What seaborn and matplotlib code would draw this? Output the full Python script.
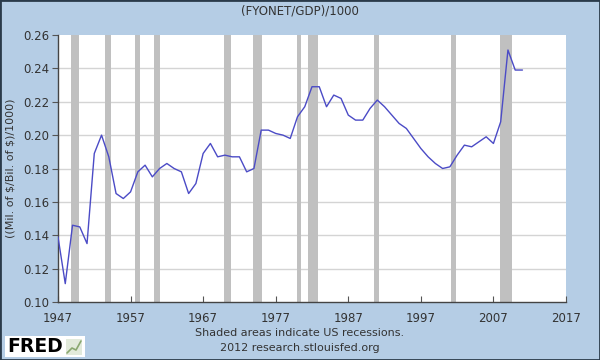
import numpy as np
import pandas as pd
import matplotlib.pyplot as plt
import seaborn as sns

# annual values
years = list(range(1947, 2012))
values = [0.139, 0.111, 0.146, 0.145, 0.135, 0.189, 0.200, 0.187, 0.165, 0.162,
          0.166, 0.178, 0.182, 0.175, 0.180, 0.183, 0.180, 0.178, 0.165, 0.171,
          0.189, 0.195, 0.187, 0.188, 0.187, 0.187, 0.178, 0.180, 0.203, 0.203,
          0.201, 0.200, 0.198, 0.211, 0.217, 0.229, 0.229, 0.217, 0.224, 0.222,
          0.212, 0.209, 0.209, 0.216, 0.221, 0.217, 0.212, 0.207, 0.204, 0.198,
          0.192, 0.187, 0.183, 0.180, 0.181, 0.188, 0.194, 0.193, 0.196, 0.199,
          0.195, 0.208, 0.251, 0.239, 0.239]

# US recessions (NBER), start / end as decimal years
rec_start = [1948.83, 1953.50, 1957.58, 1960.25, 1969.92, 1973.83, 1980.00, 1981.50, 1990.50, 2001.17, 2007.92]
rec_end = [1949.83, 1954.33, 1958.33, 1961.08, 1970.83, 1975.17, 1980.50, 1982.83, 1991.17, 2001.83, 2009.50]

xticks = [1947, 1957, 1967, 1977, 1987, 1997, 2007, 2017]
yticks = [0.10, 0.12, 0.14, 0.16, 0.18, 0.20, 0.22, 0.24, 0.26]

df = pd.DataFrame({'year': years, 'value': values})

bg = '#b5cde5'
sns.set_style('white')
plt.rcParams['font.family'] = ['DejaVu Sans']

fig = plt.figure(figsize=(6, 3.6), dpi=100, facecolor=bg)
ax = fig.add_axes([58/600, 1 - 302/360, 508/600, 267/360])
ax.set_facecolor('white')

for s, e in zip(rec_start, rec_end):
    ax.axvspan(s, e, color='#c0c0c0', lw=0, zorder=1)

for t in yticks[1:-1]:
    ax.axhline(t, color='#d4d4d4', lw=1, zorder=0.5)

sns.lineplot(data=df, x='year', y='value', ax=ax, color='#4b4bc6', lw=1, zorder=3)

ax.set_xlim(1947, 2017)
ax.set_ylim(0.10, 0.26)
ax.set_xticks(xticks)
ax.set_yticks(yticks)
ax.set_yticklabels(['%.2f' % t for t in yticks])
ax.tick_params(axis='x', direction='in', length=4, color='#555555', labelsize=8.5,
               labelcolor='#333333', pad=7)
ax.tick_params(axis='y', direction='out', length=4, color='#555555', labelsize=8.5,
               labelcolor='#333333', pad=2)
ax.tick_params(left=True, bottom=True)
for side in ['top', 'right']:
    ax.spines[side].set_visible(False)
for side in ['left', 'bottom']:
    ax.spines[side].set_color('#444444')
    ax.spines[side].set_linewidth(1)
ax.set_xlabel('')
ax.set_ylabel(r'((Mil. of \$/Bil. of \$)/1000)', fontsize=8, color='#333333', labelpad=6)

fig.text(0.5, 1 - 11/360, '(FYONET/GDP)/1000', ha='center', va='center', fontsize=8.5, color='#333333')
fig.text(0.5, 1 - 333/360, 'Shaded areas indicate US recessions.', ha='center', va='center',
         fontsize=8, color='#333333')
fig.text(0.5, 1 - 348/360, '2012 research.stlouisfed.org', ha='center', va='center',
         fontsize=8, color='#333333')

# FRED logo
fig.patches.append(plt.Rectangle((5/600, 1 - 357/360), 80/600, 21/360, transform=fig.transFigure,
                                 facecolor='white', edgecolor='none'))
fig.text(7/600, 1 - 347/360, 'FRED', ha='left', va='center', fontsize=13.5, fontweight='bold', color='black')
fig.patches.append(plt.Rectangle((66/600, 1 - 355/360), 16/600, 16/360, transform=fig.transFigure,
                                 facecolor='#e2eadb', edgecolor='none'))
fig.lines.append(plt.Line2D([67/600, 72/600, 76/600, 81/600], [1 - 353/360, 1 - 348/360, 1 - 350/360, 1 - 341/360],
                            transform=fig.transFigure, color='#8aa870', lw=1.2))

# dark frame
fig.patches.append(plt.Rectangle((0, 0), 1, 1, transform=fig.transFigure, fill=False,
                                 edgecolor='#2a3a4a', lw=2))

fig.savefig('out.png', dpi=100, facecolor=bg)
